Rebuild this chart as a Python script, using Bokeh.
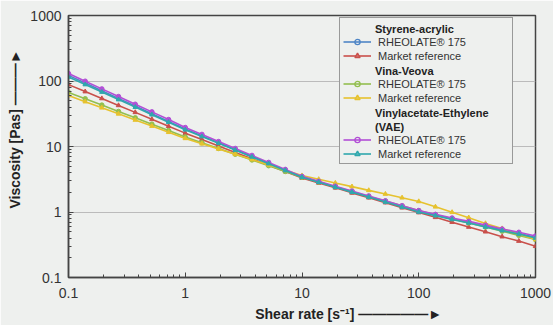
from bokeh.plotting import figure
from bokeh.models import Legend, LegendItem, FixedTicker
from bokeh.embed import file_html
from bokeh.resources import INLINE

# ---------------- data ----------------
shear_rate = [0.1, 0.139, 0.193, 0.268, 0.373, 0.518, 0.72, 1.0, 1.39, 1.93,
              2.68, 3.73, 5.18, 7.2, 10, 13.9, 19.3, 26.8, 37.3, 51.8,
              72, 100, 139, 193, 268, 373, 518, 720, 1000]

sa_rheolate = [121.9, 93.1, 71.1, 54.3, 41.5, 31.7, 24.2, 18.5, 14.5, 11.4,
               8.95, 7.03, 5.52, 4.33, 3.40, 2.86, 2.41, 2.03, 1.71, 1.44,
               1.21, 1.02, 0.90, 0.79, 0.69, 0.61, 0.53, 0.47, 0.41]
sa_market = [88, 68.9, 54.1, 42.4, 33.2, 26.0, 20.4, 16.0, 12.8, 10.2,
             8.13, 6.49, 5.19, 4.14, 3.30, 2.78, 2.34, 1.96, 1.65, 1.39,
             1.16, 0.98, 0.83, 0.70, 0.59, 0.50, 0.42, 0.36, 0.30]
vv_rheolate = [67, 53.6, 42.9, 34.3, 27.4, 21.9, 17.5, 14.0, 11.4, 9.34,
               7.63, 6.23, 5.09, 4.16, 3.40, 2.87, 2.43, 2.05, 1.73, 1.47,
               1.24, 1.05, 0.91, 0.79, 0.68, 0.59, 0.51, 0.44, 0.38]
vv_market = [60, 48.4, 39.0, 31.5, 25.4, 20.5, 16.5, 13.3, 11.0, 9.17,
             7.60, 6.31, 5.24, 4.34, 3.60, 3.16, 2.77, 2.44, 2.14, 1.88,
             1.65, 1.45, 1.20, 0.99, 0.82, 0.67, 0.56, 0.46, 0.38]
vae_rheolate = [130, 99.3, 75.8, 57.9, 44.2, 33.8, 25.8, 19.5, 15.3, 11.9,
                9.34, 7.31, 5.72, 4.47, 3.50, 2.94, 2.48, 2.09, 1.76, 1.48,
                1.25, 1.05, 0.92, 0.81, 0.72, 0.63, 0.55, 0.49, 0.43]
vae_market = [115, 88.3, 67.8, 52.0, 39.9, 30.6, 23.5, 18.0, 14.2, 11.2,
              8.81, 6.94, 5.47, 4.31, 3.40, 2.85, 2.39, 2.01, 1.69, 1.42,
              1.19, 1.00, 0.88, 0.77, 0.68, 0.59, 0.52, 0.46, 0.40]

groups = ["Styrene-acrylic", "Vina-Veova", "Vinylacetate-Ethylene", "(VAE)"]
series_names = ["RHEOLATE\u00ae 175", "Market reference"]
major_ticks = [0.1, 1, 10, 100, 1000]
tick_labels = ["0.1", "1", "10", "100", "1000"]
x_title = "Shear rate [s\u207b\u00b9]"
y_title = "Viscosity [Pas]"

BG = "#eef0ee"
FONT = "Liberation Sans"
NAN = float("nan")
NBSP = "\u00a0"

p = figure(width=553, height=325, x_axis_type="log", y_axis_type="log",
           x_range=(0.1, 1000), y_range=(0.1, 1000),
           output_backend="svg", toolbar_location=None,
           min_border_left=68, min_border_right=18, min_border_top=15,
           min_border_bottom=48)
p.background_fill_color = BG
p.border_fill_color = BG
p.outline_line_color = "#444444"
p.outline_line_width = 1.5

minor = [m * 10 ** e for e in range(-1, 3) for m in range(2, 10)]
for ax in (p.xaxis[0], p.yaxis[0]):
    ax.ticker = FixedTicker(ticks=major_ticks, minor_ticks=minor)
    ax.major_label_overrides = {t: l for t, l in zip(major_ticks, tick_labels)}
    ax.axis_line_color = "#444444"
    ax.axis_line_width = 1.5
    ax.major_tick_line_color = "#444444"
    ax.minor_tick_line_color = "#444444"
    ax.major_tick_in = 5
    ax.major_tick_out = 0
    ax.minor_tick_in = 3
    ax.minor_tick_out = 0
    ax.major_label_text_font = FONT
    ax.major_label_text_font_size = "14px"
    ax.major_label_text_color = "#333333"
    ax.axis_label_text_font = FONT
    ax.axis_label_text_font_size = "14px"
    ax.axis_label_text_font_style = "bold"
    ax.axis_label_text_color = "#222222"

# axis titles with trailing arrows (padding with no-break spaces shifts them like the reference)
p.xaxis.axis_label = NBSP * 24 + x_title + " " + "\u2014" * 5 + "\u25ba"
p.yaxis.axis_label = NBSP * 9 + y_title + " " + "\u2014" * 3 + "\u25ba"
p.xaxis.major_label_standoff = 10
p.yaxis.major_label_standoff = 7
p.xaxis.axis_label_standoff = 5
p.yaxis.axis_label_standoff = 4

p.xgrid.visible = False
p.ygrid.grid_line_color = "#bbbbbb"
p.ygrid.grid_line_width = 1

colors = {
    "sa_r": "#4f86c6", "sa_m": "#c9504b",
    "vv_r": "#93bf4f", "vv_m": "#e6c22e",
    "vae_r": "#b24fd6", "vae_m": "#2fa8ad",
}

def add(y, color, marker):
    p.line(shear_rate, y, line_color=color, line_width=1.6)
    p.scatter(shear_rate, y, marker=marker, size=4.5, line_color=color,
              fill_color=color, line_width=1)

add(sa_rheolate, colors["sa_r"], "circle")
add(sa_market, colors["sa_m"], "triangle")
add(vv_rheolate, colors["vv_r"], "circle")
add(vv_market, colors["vv_m"], "triangle")
add(vae_rheolate, colors["vae_r"], "circle")
add(vae_market, colors["vae_m"], "triangle")

# legend proxies (hollow markers like the reference legend); NaN data -> nothing on plot
def proxy(color, marker):
    l = p.line([NAN], [NAN], line_color=color, line_width=1.6)
    s = p.scatter([NAN], [NAN], marker=marker, size=9, line_color=color,
                  fill_color=None, line_width=1.4)
    return [l, s]

items = [
    LegendItem(label=NBSP, renderers=[]),
    LegendItem(label=series_names[0], renderers=proxy(colors["sa_r"], "circle")),
    LegendItem(label=series_names[1], renderers=proxy(colors["sa_m"], "triangle")),
    LegendItem(label=NBSP, renderers=[]),
    LegendItem(label=series_names[0], renderers=proxy(colors["vv_r"], "circle")),
    LegendItem(label=series_names[1], renderers=proxy(colors["vv_m"], "triangle")),
    LegendItem(label=NBSP, renderers=[]),
    LegendItem(label=NBSP, renderers=[]),
    LegendItem(label=series_names[0], renderers=proxy(colors["vae_r"], "circle")),
    LegendItem(label=series_names[1], renderers=proxy(colors["vae_m"], "triangle")),
]

pad, row_h, gap, glyph_w, standoff, label_w = 3, 13, 1, 28, 7, 131
leg_x, leg_bottom = 271, 113
n_rows = len(items)
leg_h = n_rows * row_h + (n_rows - 1) * gap + 2 * pad

legend = Legend(items=items, location=(leg_x, leg_bottom), orientation="vertical",
                padding=pad, spacing=gap, margin=0,
                label_height=row_h, glyph_height=row_h, glyph_width=glyph_w,
                label_standoff=standoff, label_width=label_w,
                label_text_font=FONT, label_text_font_size="11px",
                label_text_color="#333333",
                border_line_color="#444444", border_line_width=1.2,
                background_fill_color=BG, background_fill_alpha=1.0)
p.add_layout(legend, "center")

# bold group headers: title-only legends laid over the blank header rows
top = leg_bottom + leg_h
header_rows = [0, 3, 6, 7]
title_h = 13
for txt, r in zip(groups, header_rows):
    yc = top - pad - r * (row_h + gap) - row_h / 2
    hl = Legend(items=[LegendItem(label=NBSP, renderers=[])],
                location=(leg_x + pad + glyph_w + standoff - 2, yc - title_h / 2 - row_h),
                padding=0, margin=0, spacing=0,
                label_height=row_h, glyph_height=row_h, glyph_width=2,
                label_standoff=0, label_width=10,
                title=txt, title_standoff=0,
                title_text_font=FONT, title_text_font_size="11px",
                title_text_font_style="bold", title_text_color="#222222",
                label_text_font_size="11px",
                border_line_alpha=0, background_fill_alpha=0)
    p.add_layout(hl, "center")

html = file_html(p, INLINE)
html = html.replace("<body>", '<body style="background-color:%s;">' % BG, 1)
open("out.html", "w").write(html)
